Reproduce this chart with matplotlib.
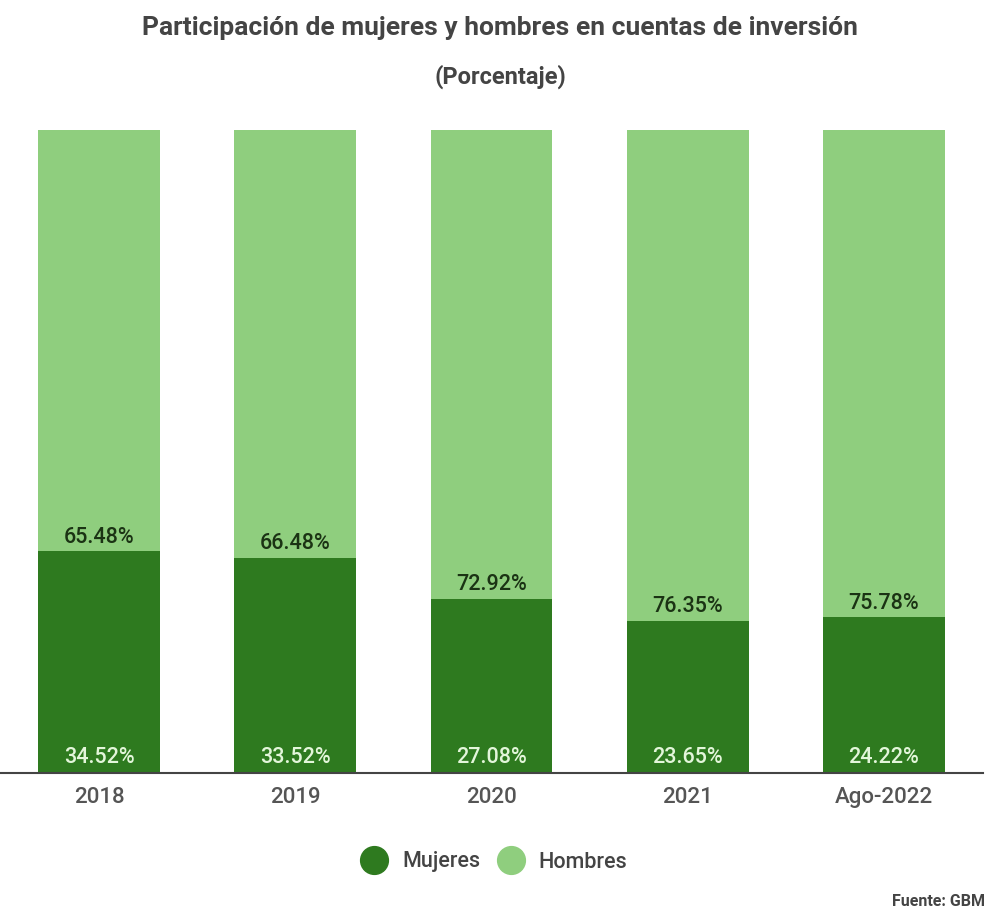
import matplotlib.pyplot as plt
from matplotlib.lines import Line2D

plt.rcParams['font.family'] = ['Roboto', 'DejaVu Sans']

# data
years = ["2018", "2019", "2020", "2021", "Ago-2022"]
mujeres = [34.52, 33.52, 27.08, 23.65, 24.22]
hombres = [65.48, 66.48, 72.92, 76.35, 75.78]

C_MUJ = "#2e7a1f"
C_HOM = "#8fce7e"

fig = plt.figure(figsize=(10, 9.18), dpi=100)
ax = fig.add_axes([0.0, 0.158, 0.983, 0.700])

x = list(range(len(years)))
ax.bar(x, mujeres, width=0.62, color=C_MUJ)
ax.bar(x, hombres, width=0.62, bottom=mujeres, color=C_HOM)

for xi, m, h in zip(x, mujeres, hombres):
    ax.annotate(f"{m:.2f}%", (xi, 0), xytext=(0, 15), textcoords="offset pixels",
                ha="center", va="center", fontsize=15.5, fontweight="medium",
                color="#e3f6da")
    ax.annotate(f"{h:.2f}%", (xi, m), xytext=(0, 14), textcoords="offset pixels",
                ha="center", va="center", fontsize=15.5, fontweight="medium",
                color="#1b3314")

ax.set_xlim(-0.505, 4.505)
ax.set_ylim(0, 100)
ax.set_yticks([])
ax.set_xticks(x)
ax.set_xticklabels(years, fontsize=16, fontweight="medium", color="#555555")
ax.tick_params(axis="x", length=0, pad=10)
for s in ["top", "right", "left"]:
    ax.spines[s].set_visible(False)
ax.spines["bottom"].set_color("#444444")
ax.spines["bottom"].set_linewidth(1.5)

fig.text(0.5, 1 - 28 / 918, "Participación de mujeres y hombres en cuentas de inversión",
         ha="center", va="center", fontsize=19, fontweight="bold", color="#444444")
fig.text(0.5, 1 - 77 / 918, "(Porcentaje)", ha="center", va="center",
         fontsize=17, fontweight="bold", color="#444444")

handles = [Line2D([], [], marker="o", ls="", markersize=20, color=C_MUJ),
           Line2D([], [], marker="o", ls="", markersize=20, color=C_HOM)]
leg = fig.legend(handles, ["Mujeres", "Hombres"], loc="center", ncol=2,
                 bbox_to_anchor=(0.49, 1 - 862 / 918), frameon=False,
                 fontsize=15.5, handletextpad=0.3, columnspacing=0.4)
for t in leg.get_texts():
    t.set_color("#444444")
    t.set_fontweight("medium")

fig.text(0.985, 1 - 902 / 918, "Fuente: GBM", ha="right", va="center",
         fontsize=11.5, fontweight="bold", color="#444444")

fig.savefig("out.png", dpi=100)
